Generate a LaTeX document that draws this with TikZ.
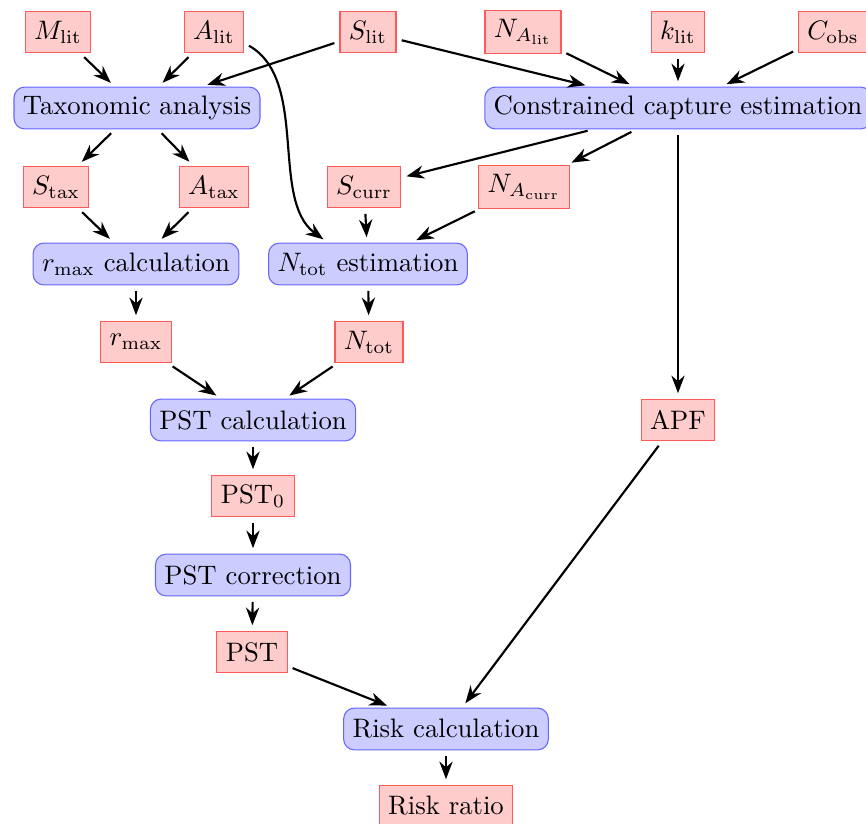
\documentclass[tikz,border=0pt]{standalone}
\usetikzlibrary{arrows.meta}
\colorlet{clrparam_fill}{red!20}
\colorlet{clrparam_draw}{red!65}
\colorlet{clrproc_fill}{blue!20}
\colorlet{clrproc_draw}{blue!60}
\begin{document}
\begin{tikzpicture}[
    x=0.01316cm, y=-0.01316cm,
    >=Stealth,
    param/.style={draw=clrparam_draw, fill=clrparam_fill, minimum height=0.55cm},
    process/.style={draw=clrproc_draw, fill=clrproc_fill, rounded corners=4pt, minimum height=0.55cm},
    arrow/.style={->, thick, shorten >=2pt, shorten <=2pt},
]
\clip (0,0) rectangle (866,823);
% inputs
\node[param] (n_mlit) at (58,32) {$M_{\mathrm{lit}}$};
\node[param] (n_alit) at (214,32) {$A_{\mathrm{lit}}$};
\node[param] (n_slit) at (368,32) {$S_{\mathrm{lit}}$};
\node[param] (n_nalit) at (523,32) {$N_{A_{\mathrm{lit}}}$};
\node[param] (n_klit) at (678,32) {$k_{\mathrm{lit}}$};
\node[param] (n_cobs) at (833,32) {$C_{\mathrm{obs}}$};
% processes and results
\node[process] (n_tax) at (137,108) {Taxonomic analysis};
\node[process] (n_cce) at (678,108) {Constrained capture estimation};
\node[param] (n_stax) at (56,187) {$S_{\mathrm{tax}}$};
\node[param] (n_atax) at (214,187) {$A_{\mathrm{tax}}$};
\node[param] (n_scurr) at (364,187) {$S_{\mathrm{curr}}$};
\node[param] (n_nacurr) at (524,187) {$N_{A_{\mathrm{curr}}}$};
\node[process] (n_rmaxcalc) at (136,264) {$r_{\max}$ calculation};
\node[process] (n_ntotest) at (368,264) {$N_{\mathrm{tot}}$ estimation};
\node[param] (n_rmax) at (136,342) {$r_{\max}$};
\node[param] (n_ntot) at (369,342) {$N_{\mathrm{tot}}$};
\node[process] (n_pstcalc) at (253,420) {PST calculation};
\node[param] (n_apf) at (678,420) {APF};
\node[param] (n_pst0) at (253,496) {PST$_0$};
\node[process] (n_pstcorr) at (253,575) {PST correction};
\node[param] (n_pst) at (252,652) {PST};
\node[process] (n_risk) at (446,729) {Risk calculation};
\node[param] (n_ratio) at (446,806) {Risk ratio};
% connectors
\draw[arrow] (n_mlit) -- (n_tax);
\draw[arrow] (n_alit) -- (n_tax);
\draw[arrow] (n_slit) -- (n_tax);
\draw[arrow] (n_slit) -- (n_cce);
\draw[arrow] (n_nalit) -- (n_cce);
\draw[arrow] (n_klit) -- (n_cce);
\draw[arrow] (n_cobs) -- (n_cce);
\draw[arrow] (n_alit.-20) .. controls +(65,37) and +(-58,-43) .. (n_ntotest.152);
\draw[arrow] (n_tax) -- (n_stax);
\draw[arrow] (n_tax) -- (n_atax);
\draw[arrow] (n_cce) -- (n_scurr);
\draw[arrow] (n_cce) -- (n_nacurr);
\draw[arrow] (n_cce) -- (n_apf);
\draw[arrow] (n_stax) -- (n_rmaxcalc);
\draw[arrow] (n_atax) -- (n_rmaxcalc);
\draw[arrow] (n_scurr) -- (n_ntotest);
\draw[arrow] (n_nacurr) -- (n_ntotest);
\draw[arrow] (n_rmaxcalc) -- (n_rmax);
\draw[arrow] (n_ntotest) -- (n_ntot);
\draw[arrow] (n_rmax) -- (n_pstcalc);
\draw[arrow] (n_ntot) -- (n_pstcalc);
\draw[arrow] (n_pstcalc) -- (n_pst0);
\draw[arrow] (n_pst0) -- (n_pstcorr);
\draw[arrow] (n_pstcorr) -- (n_pst);
\draw[arrow] (n_pst) -- (n_risk);
\draw[arrow] (n_apf) -- (n_risk);
\draw[arrow] (n_risk) -- (n_ratio);
\end{tikzpicture}
\end{document}
